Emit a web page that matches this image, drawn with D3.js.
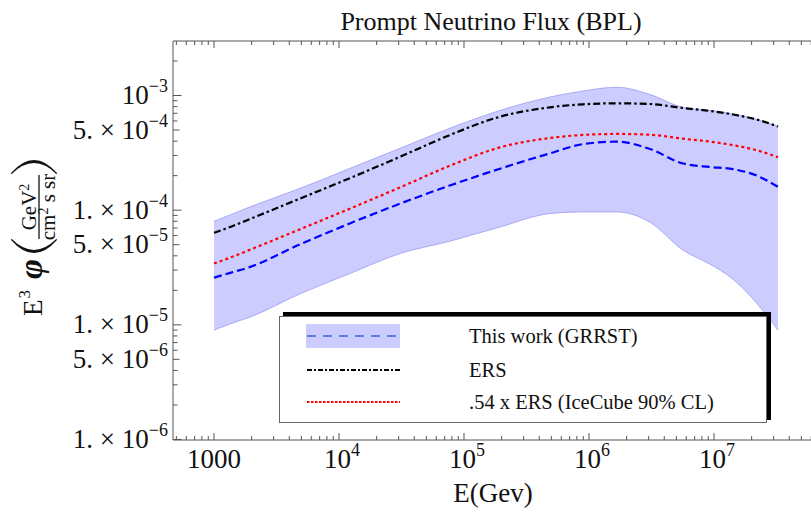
<!DOCTYPE html>
<html>
<head>
<meta charset="utf-8">
<script src="https://cdn.jsdelivr.net/npm/d3@7"></script>
<style>
  body { margin: 0; background: #fff; }
  svg { display: block; font-family: "Liberation Serif", "Times New Roman", serif; }
</style>
</head>
<body>
<div id="vis"></div>
<script>
// energies (GeV) the curves were read at
const energy = [1000, 1350, 1950, 4900, 12200, 30800, 77000, 194000, 488000, 895000,
  1.67e6, 3.08e6, 5.65e6, 9.3e6, 1.42e7, 2.2e7, 3.25e7];

// E^3 phi values, GeV^2 / (cm^2 s sr)
const bandUpper = [8.0e-5, 9.1e-5, 1.07e-4, 1.55e-4, 2.31e-4, 3.46e-4, 5.18e-4, 7.4e-4, 9.7e-4, 1.094e-3,
  1.18e-3, 1.02e-3, 7.86e-4, 7.4e-4, 6.89e-4, 6.17e-4, 5.35e-4];
const bandLower = [9.0e-6, 1.02e-5, 1.17e-5, 1.87e-5, 2.8e-5, 4.19e-5, 5.36e-5, 7.14e-5, 9.35e-5, 9.66e-5,
  9.66e-5, 7.85e-5, 4.48e-5, 3.38e-5, 2.5e-5, 1.54e-5, 8.97e-6];
const grrst = [2.58e-5, 2.84e-5, 3.2e-5, 5.05e-5, 7.66e-5, 1.14e-4, 1.64e-4, 2.3e-4, 3.13e-4, 3.77e-4,
  3.96e-4, 3.41e-4, 2.55e-4, 2.38e-4, 2.28e-4, 2.0e-4, 1.6e-4];
const ers = [6.35e-5, 7.14e-5, 8.39e-5, 1.265e-4, 1.9e-4, 2.92e-4, 4.52e-4, 6.53e-4, 7.89e-4, 8.38e-4,
  8.55e-4, 8.43e-4, 7.78e-4, 7.33e-4, 6.83e-4, 6.17e-4, 5.36e-4];
const ersIceCube = [3.43e-5, 3.86e-5, 4.53e-5, 6.83e-5, 1.03e-4, 1.58e-4, 2.44e-4, 3.53e-4, 4.26e-4, 4.53e-4,
  4.62e-4, 4.55e-4, 4.2e-4, 3.96e-4, 3.69e-4, 3.33e-4, 2.89e-4];

// tick labels
const xTickLabels = [[1e3, "1000", null], [1e4, "10", "4"], [1e5, "10", "5"], [1e6, "10", "6"], [1e7, "10", "7"]];
const yTickLabels = [[1e-3, "", "\u22123"], [5e-4, "5.", "\u22124"], [1e-4, "1.", "\u22124"], [5e-5, "5.", "\u22125"],
  [1e-5, "1.", "\u22125"], [5e-6, "5.", "\u22126"], [1e-6, "1.", "\u22126"]];

const legendItems = [
  { label: "This work (GRRST)", color: "#3a62d6", dash: "9,7", width: 1.3, swatch: true },
  { label: "ERS", color: "#000", dash: "5,2,2,2", width: 2.2 },
  { label: ".54 x ERS (IceCube 90% CL)", color: "#ff0000", dash: "2.5,1.5", width: 2.2 }
];

const W = 811, H = 513;
const frame = { left: 173, top: 41, bottom: 440, right: 830 };
const axisColor = "#555";

const svg = d3.select("#vis").append("svg").attr("width", W).attr("height", H);

const x = d3.scaleLog().domain([1e3, 1e7]).range([214, 714]);
const y = d3.scaleLog().domain([1e-6, 1e-3]).range([439.5, 95.5]);

const plot = svg.append("g");

// band
const band = d3.area()
  .x((d, i) => x(energy[i]))
  .y0((d, i) => y(bandLower[i]))
  .y1((d, i) => y(bandUpper[i]))
  .curve(d3.curveMonotoneX);
plot.append("path").datum(energy).attr("d", band).attr("fill", "#ccccff");

const lineOf = vals => d3.line()
  .x((d, i) => x(energy[i]))
  .y(d => y(d))
  .curve(d3.curveMonotoneX)(vals);

[bandUpper, bandLower].forEach(v => {
  plot.append("path").attr("d", lineOf(v))
    .attr("fill", "none").attr("stroke", "#a9a9f5").attr("stroke-width", 1);
});

const series = [
  { vals: grrst, color: "#0000ff", dash: "8,4" },
  { vals: ersIceCube, color: "#ff0000", dash: "3,3" },
  { vals: ers, color: "#000", dash: "7,3,2.5,3" }
];
series.forEach(s => {
  plot.append("path").attr("d", lineOf(s.vals))
    .attr("fill", "none").attr("stroke", s.color)
    .attr("stroke-width", 2.2).attr("stroke-dasharray", s.dash);
});

// frame
const axes = svg.append("g").attr("stroke", axisColor).attr("stroke-width", 1);
axes.append("path")
  .attr("d", `M${frame.right},${frame.top}H${frame.left}V${frame.bottom}H${frame.right}`)
  .attr("fill", "none");

// x ticks
const xLo = x.invert(frame.left), xHi = x.invert(frame.right);
const xTicks = [];
for (let p = 2; p <= 7; p++) {
  for (let m = 1; m <= 9; m++) {
    const v = m * Math.pow(10, p);
    if (v >= xLo && v <= xHi) xTicks.push({ v, major: m === 1 });
  }
}
xTicks.forEach(t => {
  const px = x(t.v), len = t.major ? 7 : 4;
  axes.append("line").attr("x1", px).attr("x2", px).attr("y1", frame.bottom).attr("y2", frame.bottom - len);
  axes.append("line").attr("x1", px).attr("x2", px).attr("y1", frame.top).attr("y2", frame.top + len);
});

// y ticks
const yHi = y.invert(frame.top);
const yTicks = [];
for (let p = -6; p <= -3; p++) {
  for (let m = 1; m <= 9; m++) {
    const v = m * Math.pow(10, p);
    if (v >= 1e-6 && v <= yHi) yTicks.push({ v, len: m === 1 ? 8.5 : (m === 5 ? 6.5 : 4.5) });
  }
}
yTicks.forEach(t => {
  const py = y(t.v);
  axes.append("line").attr("x1", frame.left).attr("x2", frame.left + t.len).attr("y1", py).attr("y2", py);
});

// tick labels
const xl = svg.append("g").attr("font-size", 27).attr("fill", "#111");
xTickLabels.forEach(([v, base, sup]) => {
  const t = xl.append("text").attr("x", x(v) + (sup ? 3 : 0)).attr("y", 468).attr("text-anchor", "middle");
  t.append("tspan").text(base);
  if (sup) t.append("tspan").attr("dy", -12).attr("font-size", 18).text(sup);
});

const yl = svg.append("g").attr("font-size", 27).attr("fill", "#111");
yTickLabels.forEach(([v, mant, sup]) => {
  const t = yl.append("text").attr("x", 168).attr("y", y(v) + 8.5).attr("text-anchor", "end");
  t.append("tspan").text(mant ? mant + " \u00d7 10" : "10");
  t.append("tspan").attr("dy", -12).attr("font-size", 18).text(sup);
});

// title and axis labels
svg.append("text").attr("x", 491).attr("y", 30).attr("text-anchor", "middle")
  .attr("font-size", 26).attr("fill", "#111").text("Prompt Neutrino Flux (BPL)");

svg.append("text").attr("x", 493).attr("y", 502).attr("text-anchor", "middle")
  .attr("font-size", 27).attr("fill", "#111").text("E(Gev)");

// y label, rotated; local x runs up the page, local y to the right
const yLab = svg.append("g").attr("transform", "translate(42,240) rotate(-90)").attr("fill", "#111");
const eText = yLab.append("text").attr("x", -76).attr("y", 0).attr("font-size", 27);
eText.append("tspan").text("E");
eText.append("tspan").attr("dx", 1).attr("dy", -12).attr("font-size", 17).text("3");
yLab.append("text").attr("x", -29).attr("y", 0).attr("text-anchor", "middle").attr("font-size", 34)
  .attr("font-style", "italic").attr("font-weight", "bold").text("\u03c6");

// stretched parentheses drawn as crescents
const paren = (e, dir) =>
  `M${e},-31Q${e + dir * 26},-8 ${e},15L${e - dir * 1.2},14.5Q${e + dir * 21},-8 ${e - dir * 1.2},-30.5Z`;
yLab.append("path").attr("d", paren(0, -1));
yLab.append("path").attr("d", paren(67, 1));

yLab.append("line").attr("x1", 1).attr("x2", 65).attr("y1", -3).attr("y2", -3)
  .attr("stroke", "#111").attr("stroke-width", 1.3);
const num = yLab.append("text").attr("x", 33).attr("y", -6.5).attr("text-anchor", "middle").attr("font-size", 21);
num.append("tspan").text("GeV");
num.append("tspan").attr("dy", -7).attr("font-size", 14).text("2");
const den = yLab.append("text").attr("x", 33).attr("y", 13).attr("text-anchor", "middle").attr("font-size", 21);
den.append("tspan").text("cm");
den.append("tspan").attr("dy", -7).attr("font-size", 14).text("2");
den.append("tspan").attr("dy", 7).text(" s sr");

// legend
const leg = svg.append("g");
leg.append("rect").attr("x", 283).attr("y", 312).attr("width", 488).attr("height", 108).attr("fill", "#000");
leg.append("rect").attr("x", 279.5).attr("y", 316.5).attr("width", 487).attr("height", 106)
  .attr("fill", "#fff").attr("stroke", "#666").attr("stroke-width", 1);

const rowY = [336, 370, 402];
legendItems.forEach((d, i) => {
  if (d.swatch) {
    leg.append("rect").attr("x", 306).attr("y", rowY[i] - 12).attr("width", 94).attr("height", 24).attr("fill", "#ccccff");
  }
  leg.append("line").attr("x1", 307).attr("x2", 400).attr("y1", rowY[i]).attr("y2", rowY[i])
    .attr("stroke", d.color).attr("stroke-width", d.width).attr("stroke-dasharray", d.dash);
  leg.append("text").attr("x", 469).attr("y", rowY[i] + 6.5).attr("font-size", 20.5).attr("fill", "#111").text(d.label);
});
</script>
</body>
</html>
